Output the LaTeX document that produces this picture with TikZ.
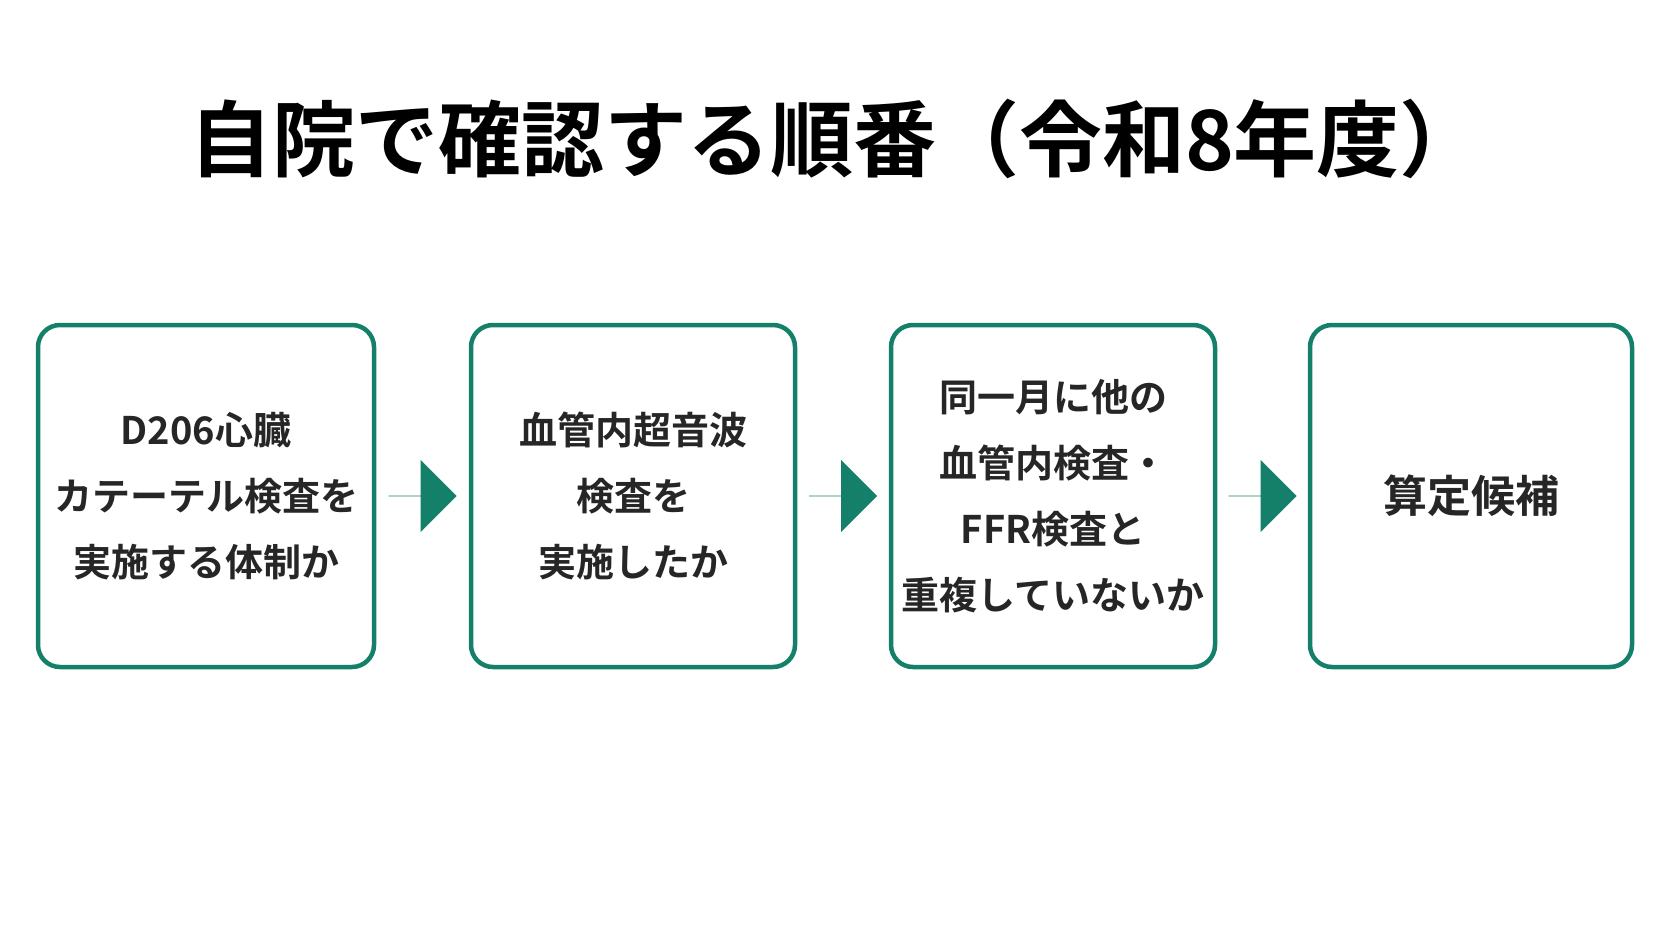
\documentclass[tikz,border=0pt]{standalone}
\usepackage{fontspec}
\setmainfont{Noto Sans CJK JP}[BoldFont={Noto Sans CJK JP Bold}]
\usetikzlibrary{positioning}
\usetikzlibrary{calc}
\usetikzlibrary{shapes.arrows}
\definecolor{stepgreen}{HTML}{14806A}

\begin{document}
\begin{tikzpicture}[x=1pt,y=-1pt,
    stepbox/.style={draw=stepgreen,line width=4.5pt,rounded corners=22pt,
      minimum width=336pt,minimum height=342pt,align=center,
      font=\bfseries\fontsize{38}{66}\selectfont,text=black!85},
    go/.style={single arrow,fill=stepgreen,draw=none,minimum height=68pt,
      minimum width=72pt,single arrow head extend=19pt,inner sep=0pt,
      single arrow tip angle=90}]

    % white page with the reference's proportions
    \useasboundingbox [fill=white] (0,0) rectangle (1672,941);

    % title
    \node [font=\bfseries\fontsize{83}{86}\selectfont] (title) at (836,139) {自院で確認する順番（令和8年度）};

    % the four steps
    \node [stepbox] (kensa) at (206,496) {D206心臓\\カテーテル検査を\\実施する体制か};
    \node [stepbox,minimum width=324pt] (ivus) at (633,496) {血管内超音波\\検査を\\実施したか};
    \node [stepbox,minimum width=324pt] (dup) at (1053,496) {同一月に他の\\血管内検査・\\FFR検査と\\重複していないか};
    \node [stepbox,minimum width=322pt] (kouho) at (1471,496) {\fontsize{44}{66}\selectfont 算定候補};

    % arrows between steps
    \foreach \a/\b/\n in {kensa/ivus/g1,ivus/dup/g2,dup/kouho/g3}
      \node [go] (\n) at ($(\a.east)!0.5!(\b.west)$) {};

  \end{tikzpicture}
\end{document}
